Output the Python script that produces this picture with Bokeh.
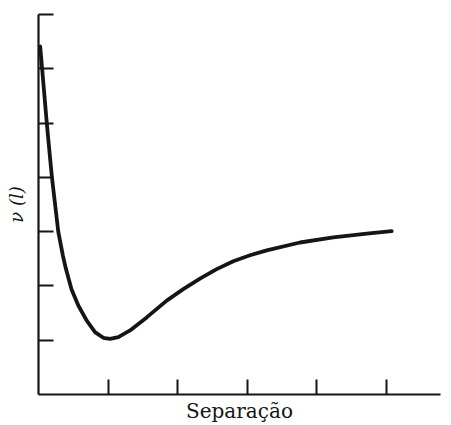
from bokeh.plotting import figure
from bokeh.models import FixedTicker, Range1d
from bokeh.embed import file_html
from bokeh.resources import INLINE

# Curve (separation, potential energy)
separacao = [0.024, 0.053, 0.119, 0.168, 0.194, 0.284, 0.352, 0.395, 0.474, 0.572,
             0.693, 0.812, 0.931, 1.027, 1.147, 1.315, 1.555, 1.842, 2.080, 2.320,
             2.560, 2.799, 3.039, 3.279, 3.757, 4.236, 4.716, 5.075]
energia = [6.41, 5.99, 5.00, 4.33, 3.99, 3.00, 2.55, 2.31, 1.94, 1.64,
           1.36, 1.15, 1.045, 1.026, 1.057, 1.18, 1.42, 1.73, 1.94, 2.135,
           2.31, 2.455, 2.565, 2.655, 2.80, 2.895, 2.965, 3.01]
x_ticks = [1, 2, 3, 4, 5]
y_ticks = [1, 2, 3, 4, 5, 6, 7]
x_label = "Separação"
y_label = "ν (l)"

INK = "#151515"

p = figure(width=443, height=425, output_backend="svg", toolbar_location=None,
           x_range=Range1d(0, 5.776), y_range=Range1d(0, 7),
           min_border_left=38, min_border_right=3, min_border_top=14,
           min_border_bottom=29, outline_line_color=None)
p.grid.visible = False
p.background_fill_color = "white"
p.border_fill_color = "white"

for ax, ticks in ((p.xaxis[0], x_ticks), (p.yaxis[0], y_ticks)):
    ax.ticker = FixedTicker(ticks=ticks)
    ax.minor_tick_line_color = None
    ax.major_tick_in = 15
    ax.major_tick_out = 0
    ax.major_tick_line_width = 2
    ax.major_tick_line_color = INK
    ax.axis_line_width = 2.2
    ax.axis_line_color = INK
    ax.major_label_text_font_size = "0px"
    ax.major_label_standoff = 0
    ax.axis_label_text_color = INK

p.xaxis.axis_label = x_label
p.xaxis.axis_label_text_font = "DejaVu Serif"
p.xaxis.axis_label_text_font_size = "20px"
p.xaxis.axis_label_text_font_style = "normal"
p.xaxis.axis_label_standoff = 4

p.yaxis.axis_label = y_label
p.yaxis.axis_label_text_font = "DejaVu Serif"
p.yaxis.axis_label_text_font_size = "18px"
p.yaxis.axis_label_text_font_style = "italic"
p.yaxis.axis_label_standoff = 12

p.line(separacao, energia, line_width=3.8, line_color=INK, line_join="round",
       line_cap="round")

open("out.html", "w").write(file_html(p, INLINE))
